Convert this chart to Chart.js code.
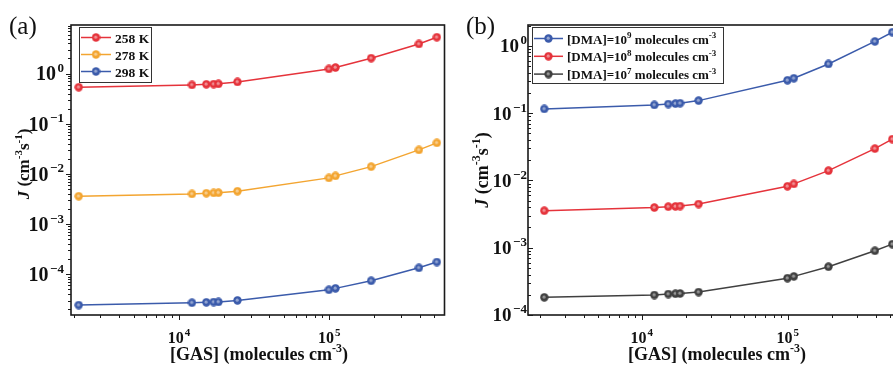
<!DOCTYPE html>
<html><head><meta charset="utf-8">
<script src="https://cdn.jsdelivr.net/npm/chart.js@4"></script>
<style>
html,body{margin:0;padding:0;background:#fff;overflow:hidden;width:893px;height:366px;}
#wa{position:absolute;left:0;top:0;width:450px;height:366px;}
#wb{position:absolute;left:450px;top:0;width:460px;height:366px;}
</style></head><body>
<div id="wa"><canvas id="ca" width="450" height="366"></canvas></div>
<div id="wb"><canvas id="cb" width="460" height="366"></canvas></div>
<script>
// ---- data ----
const gasConc = [2.15e3, 1.22e4, 1.52e4, 1.70e4, 1.83e4, 2.45e4, 9.95e4, 1.10e5, 1.90e5, 3.95e5, 5.20e5];
const J258 = [0.536, 0.596, 0.612, 0.618, 0.625, 0.683, 1.24, 1.32, 2.03, 3.90, 5.31];
const J278 = [0.00361, 0.00401, 0.00414, 0.00420, 0.00424, 0.00454, 0.00836, 0.00916, 0.0140, 0.0302, 0.0417];
const J298 = [2.44e-5, 2.72e-5, 2.77e-5, 2.81e-5, 2.83e-5, 3.03e-5, 4.93e-5, 5.26e-5, 7.46e-5, 1.35e-4, 1.76e-4];
const DMA9 = [0.116, 0.133, 0.137, 0.139, 0.141, 0.154, 0.309, 0.331, 0.540, 1.17, 1.60];
const DMA8 = [0.00355, 0.00396, 0.00408, 0.00412, 0.00416, 0.00447, 0.0082, 0.0089, 0.0140, 0.0298, 0.0412];
const DMA7 = [1.83e-4, 1.98e-4, 2.05e-4, 2.07e-4, 2.09e-4, 2.19e-4, 3.53e-4, 3.75e-4, 5.22e-4, 9.02e-4, 1.13e-3];
const yTickExpA = [0, -1, -2, -3, -4];
const yTickExpB = [0, -1, -2, -3, -4];
const xTickExp = [4, 5];
const labelsA = ['258 K', '278 K', '298 K'];
const labelsB = ['9', '8', '7']; // [DMA]=10^n molecules cm^-3

const RED = '#e5333b', ORANGE = '#f3a531', BLUE = '#3b5bab', GREY = '#404040';
const FONT = '"Liberation Serif", "Times New Roman", serif';

function sphere(color){
  const c = document.createElement('canvas'); c.width = 9; c.height = 9;
  const g = c.getContext('2d');
  g.fillStyle = color; g.beginPath(); g.arc(4.5, 4.5, 4.2, 0, Math.PI * 2); g.fill();
  g.fillStyle = 'rgba(255,255,255,0.45)'; g.beginPath(); g.arc(4.2, 4.2, 1.6, 0, Math.PI * 2); g.fill();
  return c;
}

function pts(ys){ return gasConc.map((x, i) => ({x: x, y: ys[i]})); }
function ds(label, ys, color){
  return {label, data: pts(ys), borderColor: color, backgroundColor: color, borderWidth: 1.5,
    pointStyle: sphere(color), pointRadius: 4, tension: 0, clip: false};
}

function fontOf(s, size){
  const sz = s.sup ? Math.round(size * 0.66) : size;
  return (s.it ? 'italic ' : '') + 'bold ' + sz + 'px ' + FONT;
}
function richWidth(ctx, segs, size){
  let w = 0;
  for (const s of segs){ ctx.font = fontOf(s, size); w += ctx.measureText(s.t).width + (s.pre || 0); }
  return w;
}
function drawRich(ctx, segs, x, y, size, align){
  const w = richWidth(ctx, segs, size);
  let cx = align === 'center' ? x - w / 2 : (align === 'right' ? x - w : x);
  ctx.textAlign = 'left'; ctx.textBaseline = 'alphabetic';
  for (const s of segs){
    ctx.font = fontOf(s, size);
    cx += (s.pre || 0);
    ctx.fillText(s.t, cx, s.sup ? y - size * 0.42 : y);
    cx += ctx.measureText(s.t).width;
  }
}
function expStr(e){ return e < 0 ? '\u2212' + (-e) : String(e); }

function makeDecor(cfg){
  return {
    id: 'decor',
    afterDraw(chart){
      const ctx = chart.ctx, a = chart.chartArea, xs = chart.scales.x, ys = chart.scales.y;
      ctx.save();
      ctx.strokeStyle = '#1a1a1a'; ctx.fillStyle = '#111';
      // frame
      ctx.lineWidth = 1.6;
      ctx.strokeRect(a.left, a.top, a.right - a.left, a.bottom - a.top);
      // ticks
      ctx.lineWidth = 1;
      ctx.beginPath();
      const ydir = cfg.yTickIn ? 1 : -1;
      for (let d = -6; d <= 6; d++){
        for (let m = 1; m <= 9; m++){
          const v = m * Math.pow(10, d);
          const len = m === 1 ? 5 : 3;
          if (v >= ys.min && v <= ys.max){
            const py = Math.round(ys.getPixelForValue(v)) + 0.5;
            ctx.moveTo(a.left + ydir * len, py); ctx.lineTo(a.left, py);
          }
          if (v >= xs.min && v <= xs.max){
            const px = Math.round(xs.getPixelForValue(v)) + 0.5;
            ctx.moveTo(px, a.bottom); ctx.lineTo(px, a.bottom + len);
          }
        }
      }
      ctx.stroke();
      // y tick labels
      for (const e of cfg.yExp){
        const py = ys.getPixelForValue(Math.pow(10, e));
        drawRich(ctx, [{t: '10'}, {t: expStr(e), sup: true, pre: 1.5}], a.left - cfg.yLabGap, py + cfg.yLab * 0.34, cfg.yLab, 'right');
      }
      // x tick labels
      for (const e of xTickExp){
        const px = xs.getPixelForValue(Math.pow(10, e));
        drawRich(ctx, [{t: '10'}, {t: expStr(e), sup: true, pre: 1}], px, a.bottom + 28, cfg.xLab, 'center');
      }
      // x title
      drawRich(ctx, [{t: '[GAS] (molecules cm'}, {t: '-3', sup: true}, {t: ')'}],
        cfg.xTitleX, 360, 18, 'center');
      // y title
      ctx.save();
      ctx.translate(cfg.yTitleX, cfg.yTitleY); ctx.rotate(-Math.PI / 2);
      drawRich(ctx, [{t: 'J', it: true}, {t: ' (cm'}, {t: '-3', sup: true}, {t: 's'}, {t: '-1', sup: true}, {t: ')'}],
        0, 0, cfg.yTitle, 'center');
      ctx.restore();
      // panel label
      ctx.font = '25px ' + FONT; ctx.textAlign = 'left'; ctx.textBaseline = 'alphabetic';
      ctx.fillText(cfg.panel, cfg.panelX, 34);
      // legend
      const L = cfg.legend;
      ctx.fillStyle = '#fff';
      ctx.fillRect(L.x, L.y, L.w, L.h);
      ctx.lineWidth = 1; ctx.strokeStyle = '#333';
      ctx.strokeRect(L.x + 0.5, L.y + 0.5, L.w, L.h);
      chart.data.datasets.forEach((d, i) => {
        const cy = L.y0 + i * L.dy;
        ctx.strokeStyle = d.borderColor; ctx.lineWidth = 1.5;
        ctx.beginPath(); ctx.moveTo(L.x + 2, cy); ctx.lineTo(L.x + L.lineW, cy); ctx.stroke();
        ctx.drawImage(d.pointStyle, L.x + 2 + (L.lineW - 2) / 2 - 4.5, cy - 4.5);
        ctx.fillStyle = '#111';
        drawRich(ctx, cfg.legendSegs(i, d), L.x + L.lineW + 4, cy + 5, L.font, 'left');
      });
      ctx.restore();
    }
  };
}

function baseOptions(pad, xmin, xmax, ymin, ymax){
  return {
    responsive: false, animation: false, devicePixelRatio: 1,
    layout: {padding: pad},
    plugins: {legend: {display: false}, tooltip: {enabled: false}},
    scales: {
      x: {type: 'logarithmic', min: xmin, max: xmax, display: false},
      y: {type: 'logarithmic', min: ymin, max: ymax, display: false}
    }
  };
}

new Chart(document.getElementById('ca'), {
  type: 'line',
  data: {datasets: [ds(labelsA[0], J258, RED), ds(labelsA[1], J278, ORANGE), ds(labelsA[2], J298, BLUE)]},
  options: baseOptions({left: 71, top: 25, right: 2, bottom: 51}, 1910, 585000, 1.55e-5, 9.3),
  plugins: [makeDecor({
    yExp: yTickExpA, yLab: 20, yLabGap: 7, xLab: 16, yTitle: 17, yTickIn: false,
    xTitleX: 259, yTitleX: 29, yTitleY: 164, panel: '(a)', panelX: 9,
    legend: {x: 79, y: 27, w: 72, h: 55, y0: 37.5, dy: 17, lineW: 32, font: 13.5},
    legendSegs: (i, d) => [{t: d.label}]
  })]
});

new Chart(document.getElementById('cb'), {
  type: 'line',
  data: {datasets: [ds(labelsB[0], DMA9, BLUE), ds(labelsB[1], DMA8, RED), ds(labelsB[2], DMA7, GREY)]},
  options: baseOptions({left: 78, top: 25, right: 10, bottom: 51}, 1663, 587000, 1e-4, 2.05),
  plugins: [makeDecor({
    yExp: yTickExpB, yLab: 19, yLabGap: 1, xLab: 16, yTitle: 18, yTickIn: true,
    xTitleX: 267, yTitleX: 38, yTitleY: 170, panel: '(b)', panelX: 16,
    legend: {x: 82, y: 27, w: 191, h: 56, y0: 38.5, dy: 17.8, lineW: 31, font: 13},
    legendSegs: (i, d) => [{t: '[DMA]=10'}, {t: d.label, sup: true}, {t: ' molecules cm'}, {t: '-3', sup: true}]
  })]
});
</script>
</body></html>
